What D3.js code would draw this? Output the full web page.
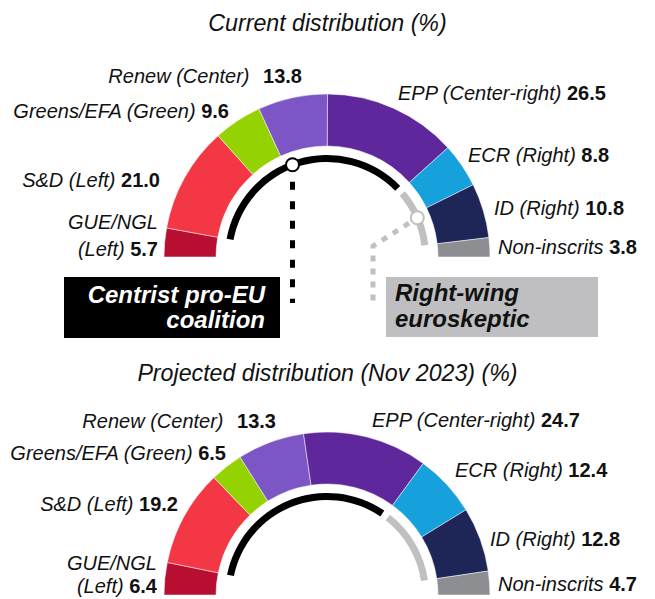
<!DOCTYPE html>
<html><head><meta charset="utf-8">
<script src="https://cdn.jsdelivr.net/npm/d3@7"></script>
<style>
body{margin:0;background:#fff}
svg{display:block}
text{font-family:"Liberation Sans",Arial,Helvetica,sans-serif}
</style>
</head><body>
<svg id="chart" width="655" height="599"></svg>
<script>
// ---- data ----
const parties = ["GUE/NGL","S&D","Greens/EFA","Renew","EPP","ECR","ID","Non-inscrits"];
const leanings = ["(Left)","(Left)","(Green)","(Center)","(Center-right)","(Right)","(Right)",""];
const currentValues = [5.7,21.0,9.6,13.8,26.5,8.8,10.8,3.8];
const projectedValues = [6.4,19.2,6.5,13.3,24.7,12.4,12.8,4.7];
const partyColors = ["#b80e31","#f33744","#95d201","#7b56c4","#5e289c","#17a1dc","#1e2658","#8c8e91"];
const centristGroup = ["S&D","Greens/EFA","Renew","EPP"];
const rightGroup = ["ECR","ID"];
const titles = ["Current distribution (%)","Projected distribution (Nov 2023) (%)"];
const groupLabels = [["Centrist pro-EU","coalition"],["Right-wing","euroskeptic"]];

// ---- layout (positions only) ----
const FS = 20;
const charts = [
  { values: currentValues, title: titles[0], cx: 327, cy: 257, titleY: 31, annotate: true,
    labels: [
      {x:158, y:229, a:"end", two:true, y2:256},
      {x:160, y:187, a:"end"},
      {x:229, y:118, a:"end"},
      {x:302, y:83, a:"end", gap:8},
      {x:398, y:100, a:"start"},
      {x:468, y:162, a:"start"},
      {x:494, y:215, a:"start"},
      {x:498, y:254, a:"start"}
    ]},
  { values: projectedValues, title: titles[1], cx: 327, cy: 595, titleY: 381, annotate: false,
    labels: [
      {x:157, y:570, a:"end", two:true, y2:592.5},
      {x:178, y:511, a:"end"},
      {x:226, y:460, a:"end"},
      {x:276, y:428, a:"end", gap:8},
      {x:372, y:427, a:"start"},
      {x:455, y:477, a:"start"},
      {x:490, y:546, a:"start"},
      {x:498, y:591, a:"start"}
    ]}
];

const svg = d3.select("#chart");
const R_OUT = 163, R_IN = 111, R_B_IN = 95, R_B_OUT = 102;
const PAD = 2 * Math.PI / 180;

charts.forEach(ch => {
  const total = d3.sum(ch.values);
  const ang = d3.scaleLinear().domain([0, total]).range([-Math.PI/2, Math.PI/2]);
  const pie = d3.pie().sort(null).startAngle(-Math.PI/2).endAngle(Math.PI/2);
  const arcs = pie(ch.values);
  const g = svg.append("g").attr("transform", `translate(${ch.cx},${ch.cy})`);
  const arc = d3.arc().innerRadius(R_IN).outerRadius(R_OUT);

  g.selectAll("path.seg").data(arcs).join("path")
    .attr("class","seg")
    .attr("d", arc)
    .attr("fill", (d,i) => partyColors[i])
    .attr("stroke", "#fff").attr("stroke-width", 0.5);

  // group arcs
  const cum = d3.cumsum(ch.values);
  const range = grp => {
    const idx = grp.map(p => parties.indexOf(p));
    const i0 = d3.min(idx), i1 = d3.max(idx);
    return [i0 === 0 ? 0 : cum[i0-1], cum[i1]];
  };
  const [c0, c1] = range(centristGroup);
  const [r0, r1] = range(rightGroup);
  const barc = d3.arc().innerRadius(R_B_IN).outerRadius(R_B_OUT);
  const blackA = [ang(c0), ang(c1) - PAD];
  const grayA = [ang(r0) + PAD, ang(r1)];
  g.append("path").attr("d", barc({startAngle: blackA[0], endAngle: blackA[1]})).attr("fill", "#000");
  g.append("path").attr("d", barc({startAngle: grayA[0], endAngle: grayA[1]})).attr("fill", "#c0c0c2");

  // title
  svg.append("text").attr("x", 327.5).attr("y", ch.titleY).attr("text-anchor","middle")
    .attr("font-size", 23.2).attr("font-style","italic").attr("fill","#111").text(ch.title);

  // labels
  ch.labels.forEach((L, i) => {
    const val = ch.values[i].toFixed(1);
    if (L.two) {
      svg.append("text").attr("x", L.x).attr("y", L.y).attr("text-anchor", L.a)
        .attr("font-size", FS).attr("font-style","italic").attr("fill","#111").text(parties[i]);
      const t = svg.append("text").attr("x", L.x).attr("y", L.y2).attr("text-anchor", L.a)
        .attr("font-size", FS).attr("fill","#111");
      t.append("tspan").attr("font-style","italic").text(leanings[i] + " ");
      t.append("tspan").attr("font-weight","bold").text(val);
    } else {
      const t = svg.append("text").attr("x", L.x).attr("y", L.y).attr("text-anchor", L.a)
        .attr("font-size", FS).attr("fill","#111");
      const name = leanings[i] ? parties[i] + " " + leanings[i] : parties[i];
      t.append("tspan").attr("font-style","italic").text(name + " ");
      t.append("tspan").attr("font-weight","bold").attr("dx", L.gap || 0).text(val);
    }
  });

  if (ch.annotate) {
    const rc = (R_B_IN + R_B_OUT) / 2;
    const bAng = -20.5 * Math.PI / 180;
    const bx = ch.cx + rc * Math.sin(bAng), by = ch.cy - rc * Math.cos(bAng);
    const gAng = (grayA[0] + grayA[1]) / 2;
    const gx = ch.cx + rc * Math.sin(gAng), gy = ch.cy - rc * Math.cos(gAng);

    // black dashed leader
    svg.append("line").attr("x1", bx).attr("x2", bx).attr("y1", by + 17).attr("y2", 303)
      .attr("stroke","#000").attr("stroke-width",5).attr("stroke-dasharray","8,11.5");
    // gray dashed leader
    const legX = 373, legY = 246;
    svg.append("path")
      .attr("d", `M${gx},${gy}L${legX},${legY}L${legX},302`)
      .attr("fill","none").attr("stroke","#c0c0c2").attr("stroke-width",5)
      .attr("stroke-dasharray","6,7").attr("stroke-dashoffset", -10);

    svg.append("circle").attr("cx", bx).attr("cy", by).attr("r", 6.5)
      .attr("fill","#fff").attr("stroke","#000").attr("stroke-width",2);
    svg.append("circle").attr("cx", gx).attr("cy", gy).attr("r", 6.5)
      .attr("fill","#fff").attr("stroke","#c0c0c2").attr("stroke-width",2);

    // boxes
    svg.append("rect").attr("x",64).attr("y",277).attr("width",216).attr("height",61).attr("fill","#000");
    svg.append("rect").attr("x",386).attr("y",277).attr("width",212).attr("height",60).attr("fill","#bfbfc1");
    groupLabels[0].forEach((s, k) => {
      svg.append("text").attr("x", 265).attr("y", 303 + k * 25).attr("text-anchor","end")
        .attr("font-size", 24).attr("font-weight","bold").attr("font-style","italic")
        .attr("fill","#fff").text(s);
    });
    groupLabels[1].forEach((s, k) => {
      svg.append("text").attr("x", 395).attr("y", 301 + k * 26).attr("text-anchor","start")
        .attr("font-size", 24).attr("font-weight","bold").attr("font-style","italic")
        .attr("fill","#111").text(s);
    });
  }
});
</script>
</body></html>
